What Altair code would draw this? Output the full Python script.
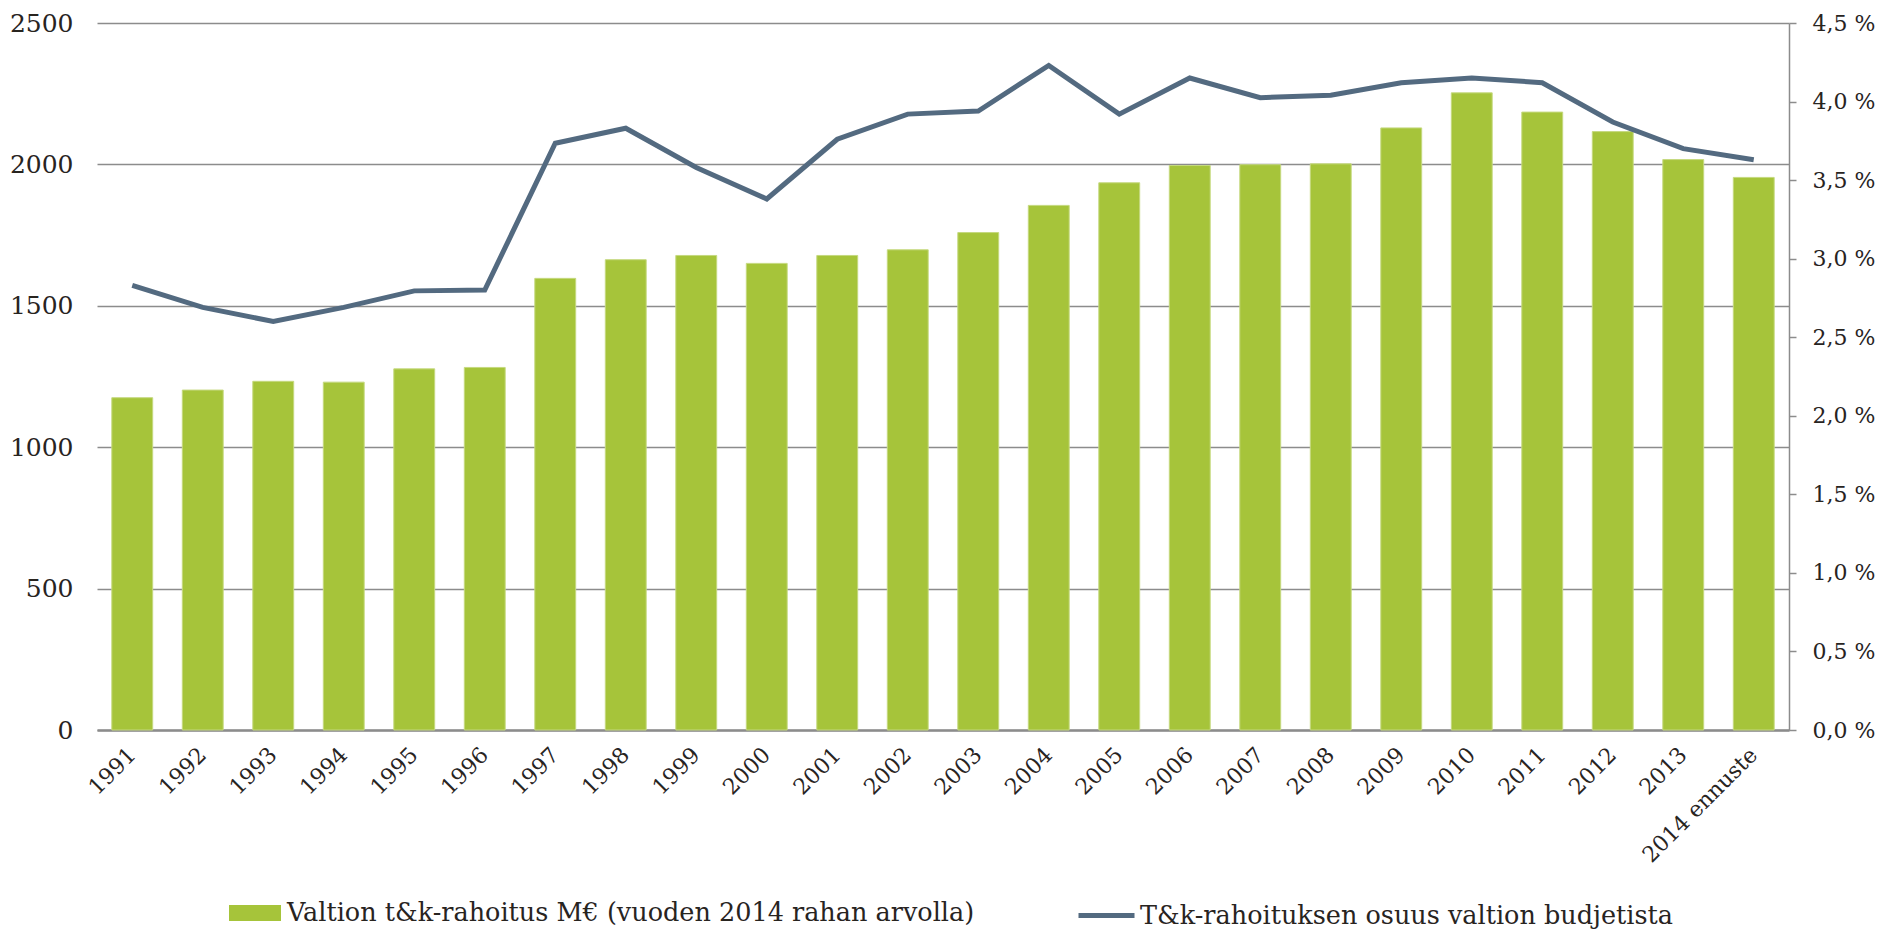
import altair as alt
import pandas as pd

years = ["1991", "1992", "1993", "1994", "1995", "1996", "1997", "1998", "1999",
         "2000", "2001", "2002", "2003", "2004", "2005", "2006", "2007", "2008",
         "2009", "2010", "2011", "2012", "2013", "2014 ennuste"]
funding = [1175, 1202, 1233, 1230, 1277, 1282, 1597, 1663, 1678, 1650, 1678, 1698,
           1759, 1855, 1935, 1996, 1999, 2002, 2129, 2253, 2185, 2116, 2017, 1954]
share = [2.83, 2.69, 2.60, 2.69, 2.795, 2.80, 3.735, 3.83, 3.58, 3.38, 3.76, 3.92,
         3.94, 4.23, 3.92, 4.15, 4.025, 4.04, 4.12, 4.15, 4.12, 3.87, 3.70, 3.63]
left_ticks = [0, 500, 1000, 1500, 2000, 2500]
right_ticks = [0, 0.5, 1.0, 1.5, 2.0, 2.5, 3.0, 3.5, 4.0, 4.5]

bar_name = "Valtion t&k-rahoitus M€ (vuoden 2014 rahan arvolla)"
line_name = "T&k-rahoituksen osuus valtion budjetista"

df = pd.DataFrame({"year": years, "funding": funding, "share": share})
df["s1"] = bar_name
df["s2"] = line_name

FONT = "DejaVu Serif"
TXT = "#28241f"
GRID = "#8c8c8c"
GREEN = "#a6c43a"
SLATE = "#536a80"

x_enc = alt.X(
    "year:N", sort=years,
    scale=alt.Scale(paddingInner=0.42, paddingOuter=0.21),
    axis=alt.Axis(title=None, labelAngle=-45, labelAlign="right", labelBaseline="middle",
                  labelPadding=21, ticks=False, domainColor=GRID, domainWidth=2.5,
                  labelFontSize=22, grid=False, labelFont=FONT, labelColor=TXT),
)

bars = alt.Chart(df).mark_bar(stroke="#c5d97f", strokeWidth=1).encode(
    x=x_enc,
    y=alt.Y("funding:Q", scale=alt.Scale(domain=[0, 2500], nice=False),
            axis=alt.Axis(title=None, values=left_ticks, format="d", grid=True, gridColor=GRID,
                          gridWidth=1.5, domain=False, ticks=False, labelPadding=24,
                          labelFontSize=25, labelFont=FONT, labelColor=TXT)),
    color=alt.Color("s1:N", scale=alt.Scale(domain=[bar_name], range=[GREEN]),
                    legend=alt.Legend(title=None, orient="none", legendX=132, legendY=864,
                                      symbolType="M-1,-0.31H1V0.31H-1Z", symbolSize=2704,
                                      symbolStrokeWidth=0, labelFontSize=25.5, labelFont=FONT,
                                      labelColor=TXT, labelOffset=6, labelLimit=0, padding=0)),
)

line = alt.Chart(df).mark_line(strokeWidth=5).encode(
    x=x_enc,
    y=alt.Y("share:Q", scale=alt.Scale(domain=[0, 4.5], nice=False),
            axis=alt.Axis(title=None, orient="right", values=right_ticks, grid=False,
                          domain=True, domainColor=GRID, domainWidth=1.5, ticks=True,
                          tickSize=7, tickColor=GRID, tickWidth=1.5, labelPadding=16,
                          labelFontSize=22, labelFont=FONT, labelColor=TXT,
                          labelExpr="replace(format(datum.value, '.1f'), '.', ',') + ' %'")),
    color=alt.Color("s2:N", scale=alt.Scale(domain=[line_name], range=[SLATE]),
                    legend=alt.Legend(title=None, orient="none", legendX=979, legendY=862,
                                      symbolType="stroke", symbolSize=3136,
                                      symbolStrokeWidth=5, labelFontSize=25.5, labelFont=FONT,
                                      labelColor=TXT, labelOffset=3, labelLimit=0, padding=0)),
)

chart = alt.layer(bars, line).resolve_scale(y="independent", color="independent").properties(
    width=1692, height=707,
    padding={"left": 89, "top": 15, "right": 101, "bottom": 200},
    autosize=alt.AutoSizeParams(type="none"),
).configure_view(stroke=None)

chart.save("out.html", embed_options={"renderer": "svg", "actions": False})
